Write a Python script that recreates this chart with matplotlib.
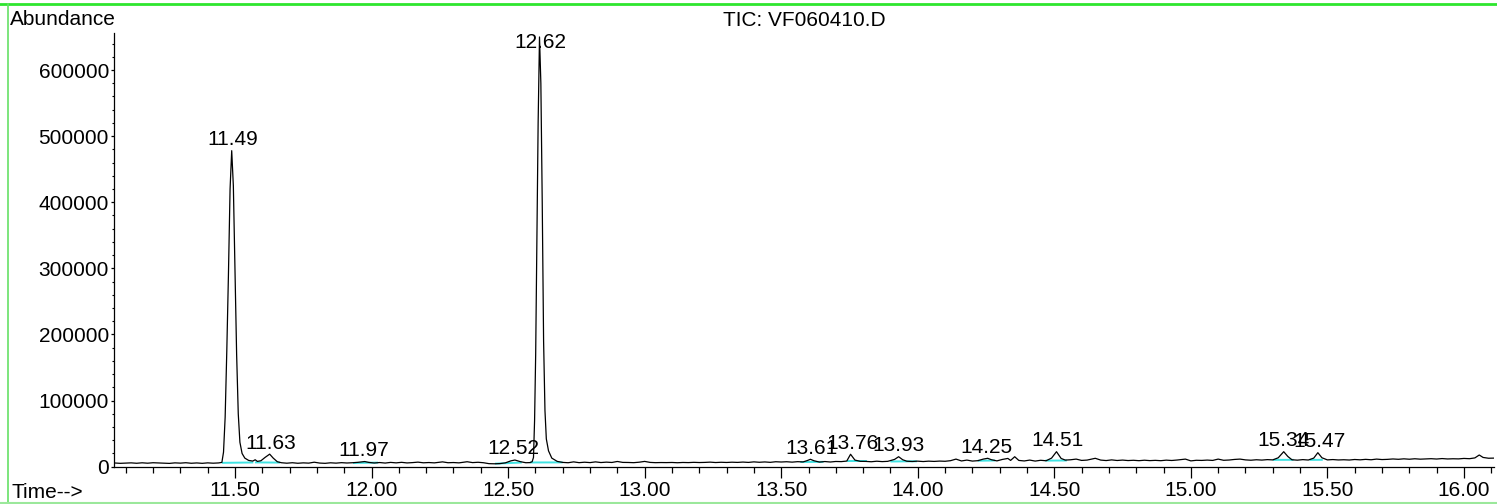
import matplotlib
matplotlib.use("Agg")
import matplotlib.pyplot as plt
from matplotlib.ticker import MultipleLocator
from matplotlib.lines import Line2D

# ---------------- data ----------------
rt = [
    11.06, 11.08, 11.10, 11.12, 11.14, 11.16, 11.18, 11.20, 11.22, 11.24,
    11.26, 11.28, 11.30, 11.32, 11.34, 11.36, 11.38, 11.40, 11.42, 11.44,
    11.452, 11.458, 11.464, 11.470, 11.476, 11.482, 11.488, 11.494, 11.500, 11.506,
    11.512, 11.518, 11.526, 11.536, 11.55, 11.565, 11.574, 11.582, 11.595, 11.61,
    11.627, 11.64, 11.655, 11.67,
    11.69, 11.71, 11.73, 11.75, 11.77, 11.79, 11.81, 11.83, 11.85, 11.87,
    11.89, 11.91, 11.93, 11.95, 11.975, 11.99, 12.01, 12.03, 12.05, 12.07,
    12.09, 12.11, 12.13, 12.15, 12.17, 12.19, 12.21, 12.23, 12.26, 12.28,
    12.30, 12.32, 12.35, 12.37, 12.39, 12.41, 12.43, 12.45, 12.47, 12.49,
    12.51, 12.525, 12.545, 12.565, 12.58,
    12.588, 12.593, 12.597, 12.601, 12.605, 12.610, 12.615, 12.620, 12.625, 12.630,
    12.635, 12.640, 12.648, 12.66, 12.68, 12.70,
    12.72, 12.74, 12.76, 12.78, 12.80, 12.82, 12.84, 12.86, 12.88, 12.90,
    12.92, 12.94, 12.96, 12.98, 13.00, 13.02, 13.04, 13.06, 13.08, 13.10,
    13.12, 13.14, 13.16, 13.18, 13.20, 13.22, 13.24, 13.26, 13.28, 13.30,
    13.32, 13.34, 13.36, 13.38, 13.40, 13.42, 13.44, 13.46, 13.48, 13.50,
    13.52, 13.54, 13.56, 13.58, 13.595, 13.607, 13.62, 13.64, 13.66, 13.68,
    13.70, 13.72, 13.74, 13.754, 13.77, 13.79, 13.81, 13.83, 13.85, 13.87,
    13.89, 13.915, 13.93, 13.945, 13.96, 13.98, 14.00, 14.02, 14.04, 14.06,
    14.08, 14.10, 14.12, 14.14, 14.16, 14.18, 14.20, 14.22, 14.24, 14.256,
    14.27, 14.29, 14.31, 14.33, 14.34, 14.355, 14.37, 14.39, 14.41, 14.43,
    14.45, 14.47, 14.49, 14.508, 14.525, 14.54, 14.56, 14.58, 14.60, 14.62,
    14.65, 14.67, 14.69, 14.71, 14.73, 14.75, 14.77, 14.79, 14.81, 14.83,
    14.85, 14.87, 14.89, 14.91, 14.93, 14.95, 14.98, 15.00, 15.02, 15.04,
    15.06, 15.08, 15.10, 15.12, 15.14, 15.16, 15.18, 15.20, 15.22, 15.24,
    15.26, 15.28, 15.30, 15.32, 15.34, 15.355, 15.37, 15.39, 15.41, 15.43,
    15.45, 15.465, 15.48, 15.50, 15.52, 15.54, 15.56, 15.58, 15.60, 15.62,
    15.64, 15.66, 15.68, 15.70, 15.72, 15.74, 15.76, 15.78, 15.80, 15.82,
    15.84, 15.86, 15.88, 15.90, 15.92, 15.94, 15.96, 15.98, 16.00, 16.02,
    16.04, 16.056, 16.07, 16.09, 16.11,
]
abundance = [
    5600, 5100, 5500, 5800, 5200, 5900, 5300, 6000, 5700, 5400,
    5000, 5800, 5400, 6000, 5200, 5700, 5100, 5800, 5300, 5700,
    6500, 22000, 75000, 175000, 290000, 420000, 478000, 425000, 295000, 170000,
    80000, 37000, 20000, 13000, 9500, 8500, 10500, 8000, 9000, 14000,
    19000, 13000, 7500, 6000,
    5300, 6000, 5200, 5800, 5400, 6800, 5500, 5100, 5900, 5400,
    6100, 5600, 6000, 6600, 7800, 6500, 5600, 6300, 5500, 6500,
    5800, 6600, 5700, 6200, 6900, 5900, 6300, 5800, 7300, 6000,
    6300, 5800, 7500, 6200, 6700, 6000, 4600, 4400, 4700, 5800,
    8800, 10100, 7600, 6000, 6200,
    7500, 14000, 70000, 170000, 320000, 520000, 650000, 580000, 400000, 190000,
    85000, 42000, 24000, 13000, 8000, 6500,
    6000, 7300, 6100, 6800, 6200, 7300, 6300, 6900, 6400, 7900,
    6500, 6400, 6100, 6800, 8000, 6500, 6100, 6300, 6200, 6400,
    6000, 6400, 6200, 6600, 6300, 6500, 6900, 6300, 6700, 6400,
    6800, 6500, 7000, 6500, 7300, 6700, 7200, 6600, 7500, 7100,
    7500, 6900, 7600, 7200, 9200, 11200, 9000, 7000, 7800, 7100,
    7900, 7700, 8500, 18800, 10000, 8100, 8000, 7500, 8300, 7700,
    8100, 11000, 15100, 10500, 8300, 7900, 8400, 7800, 8400, 8000,
    8500, 8200, 9100, 11500, 8700, 10000, 8500, 9100, 11500, 12700,
    10500, 8800, 11000, 12500, 9500, 15100, 9500, 8700, 10000, 8500,
    9700, 9000, 13000, 22700, 12500, 10000, 10500, 11500, 9500, 10000,
    12700, 10000, 9300, 10300, 9400, 10000, 9300, 9700, 9100, 9800,
    9200, 9600, 9100, 9900, 9400, 10100, 11500, 8800, 9700, 9500,
    10000, 9500, 11500, 9700, 10100, 11000, 11500, 10300, 9800, 10500,
    10000, 10700, 10300, 13500, 22700, 15500, 10500, 9900, 10700, 10100,
    13000, 21200, 13500, 10300, 10800, 10200, 10500, 10100, 10900, 10400,
    11100, 10500, 11500, 10800, 11100, 11700, 11200, 11900, 11300, 12000,
    11400, 11700, 12100, 11600, 12300, 11700, 12000, 11800, 12500, 12100,
    13300, 17700, 14000, 12800, 13000,
]

peak_labels = ["11.49", "11.63", "11.97", "12.52", "12.62", "13.61", "13.76",
               "13.93", "14.25", "14.51", "15.34", "15.47"]
peak_rt = [11.49, 11.63, 11.97, 12.52, 12.62, 13.61, 13.76,
           13.93, 14.25, 14.51, 15.34, 15.47]
peak_apex = [478000, 19000, 7800, 10100, 650000, 11200, 18800,
             15100, 12700, 22700, 22700, 21200]

int_start = [11.452, 11.573, 11.932, 12.452, 12.580, 13.570, 13.740,
             13.900, 14.220, 14.467, 15.300, 15.435]
int_end = [11.567, 11.665, 12.024, 12.550, 12.700, 13.655, 13.813,
           13.997, 14.283, 14.546, 15.376, 15.483]
int_level_start = [5800, 6500, 5600, 4600, 6400, 7100, 8000,
                   7900, 9000, 9200, 10300, 10300]
int_level_end = [6400, 6200, 6200, 6300, 6500, 7300, 8000,
                 8200, 9400, 9400, 10400, 10400]

x_ticks = [11.50, 12.00, 12.50, 13.00, 13.50, 14.00, 14.50, 15.00, 15.50, 16.00]
y_ticks = [0, 100000, 200000, 300000, 400000, 500000, 600000]

# ---------------- figure ----------------
plt.rcParams['font.family'] = ['Liberation Sans', 'DejaVu Sans']
W, H = 1497, 504
fig = plt.figure(figsize=(W / 100, H / 100), dpi=100)
fig.patch.set_facecolor('white')

ax_left, ax_right, ax_bottom, ax_top = 114, 1494, 466.7, 33
ax = fig.add_axes([ax_left / W, 1 - ax_bottom / H,
                   (ax_right - ax_left) / W, (ax_bottom - ax_top) / H])

for s, e, l0, l1 in zip(int_start, int_end, int_level_start, int_level_end):
    ax.plot([s, e], [l0, l1], color='#3fe3e3', lw=1.4, solid_capstyle='butt', zorder=2)
ax.plot(rt, abundance, color='black', lw=0.9, zorder=3)

ax.set_xlim(11.057, 16.11)
ax.set_ylim(0, 656000)
for side in ('top', 'right'):
    ax.spines[side].set_visible(False)
for side in ('left', 'bottom'):
    ax.spines[side].set_linewidth(0.9)

ax.set_xticks(x_ticks)
ax.set_xticklabels([f"{t:.2f}" for t in x_ticks])
ax.xaxis.set_minor_locator(MultipleLocator(0.1))
ax.tick_params(axis='x', which='major', direction='out', length=7.7, width=0.9,
               pad=2.6, labelsize=15, colors='black')
ax.tick_params(axis='x', which='minor', direction='out', length=4.1, width=0.9)

ax.set_yticks(y_ticks)
ax.set_yticklabels([str(v) for v in y_ticks])
ax.yaxis.set_minor_locator(MultipleLocator(20000))
ax.tick_params(axis='y', which='major', direction='out', length=2.4, width=0.9,
               pad=1.2, labelsize=15)
ax.tick_params(axis='y', which='minor', direction='out', length=1.3, width=0.8)

for lab, x, h in zip(peak_labels, peak_rt, peak_apex):
    ax.annotate(lab, xy=(x, min(h, 625000)), xytext=(0, 4.0),
                textcoords='offset points', ha='center', va='baseline',
                fontsize=15, color='black', zorder=4, annotation_clip=False)

fig.text(9.5 / W, 1 - 25 / H, "Abundance", ha='left', va='baseline', fontsize=15)
fig.text(804.7 / W, 1 - 26.5 / H, "TIC: VF060410.D", ha='center', va='baseline', fontsize=15)
fig.text(11.7 / W, 1 - 498 / H, "Time-->", ha='left', va='baseline', fontsize=15)

# green window frame
fig.add_artist(Line2D([0, 1], [1 - 4.4 / H] * 2, transform=fig.transFigure,
                      color='#2ee62e', lw=2.0))
fig.add_artist(Line2D([8.3 / W] * 2, [0, 1 - 4.4 / H], transform=fig.transFigure,
                      color='#66e066', lw=1.2))
fig.add_artist(Line2D([0, 1], [1 - 503 / H] * 2, transform=fig.transFigure,
                      color='#9be89b', lw=1.5))

fig.savefig("out.png", dpi=100)
